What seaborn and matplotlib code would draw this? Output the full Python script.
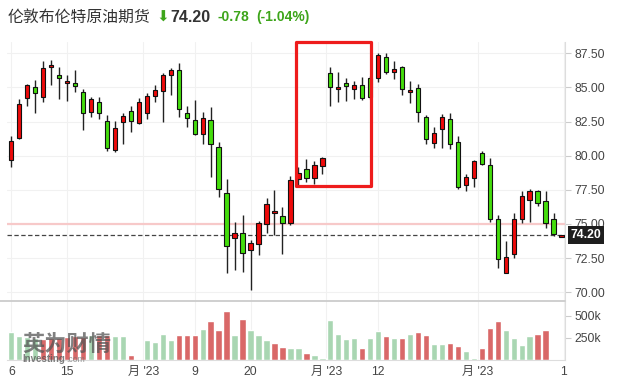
import numpy as np
import pandas as pd
import matplotlib
matplotlib.use("Agg")
import matplotlib.pyplot as plt
import matplotlib.transforms as mtransforms
from matplotlib.patches import Rectangle
from matplotlib.lines import Line2D
from matplotlib.ticker import FixedLocator, FuncFormatter
import seaborn as sns

sns.set_theme(style="white")
plt.rcParams["font.family"] = ["Liberation Sans", "Noto Sans CJK SC", "DejaVu Sans"]

# ── data ──────────────────────────────────────────────────────────────────────
opens = [79.67, 81.33, 84.21, 85.01, 84.28, 86.48, 85.89, 85.30, 85.33, 84.65,
         83.23, 83.91, 82.52, 80.40, 82.45, 83.28, 82.38, 83.11, 84.40, 84.72,
         85.89, 86.26, 83.11, 82.60, 81.57, 82.65, 80.62, 77.30, 73.94, 74.33,
         73.09, 73.55, 74.99, 75.77, 75.57, 75.06, 78.33, 79.01, 78.38, 79.28,
         86.04, 84.87, 85.30, 84.91, 85.16, 85.67, 85.67, 87.21, 86.16, 86.48,
         84.65, 84.94, 82.82, 80.91, 81.94, 82.67, 80.99, 77.82, 78.35, 80.18,
         79.30, 75.35, 71.40, 72.79, 75.35, 76.79, 77.40, 76.67, 75.35, 74.08]
closes = [81.06, 83.77, 85.16, 84.57, 86.40, 86.65, 85.67, 85.48, 85.13, 83.11,
          84.13, 83.11, 80.55, 82.01, 82.89, 82.52, 83.91, 84.35, 84.79, 85.91,
          86.26, 83.40, 82.74, 81.62, 82.79, 80.84, 77.55, 73.38, 74.33, 72.87,
          73.62, 75.06, 76.45, 75.94, 75.06, 78.21, 78.72, 78.38, 79.30, 79.82,
          85.01, 85.01, 85.09, 85.16, 84.26, 84.32, 87.38, 86.16, 86.35, 84.87,
          84.82, 83.18, 81.21, 81.70, 82.82, 80.84, 77.74, 78.43, 79.62, 79.38,
          75.40, 72.40, 72.57, 75.35, 77.04, 77.45, 76.52, 75.06, 74.26, 74.20]
highs = [81.48, 84.18, 85.28, 85.52, 86.91, 87.01, 86.48, 85.89, 86.26, 84.91,
         84.33, 84.28, 83.01, 82.52, 83.11, 83.62, 84.21, 84.60, 85.16, 86.04,
         86.43, 86.77, 83.62, 84.06, 83.18, 83.55, 80.99, 78.28, 75.18, 75.67,
         73.82, 75.23, 76.87, 77.48, 76.23, 78.52, 79.21, 79.77, 79.60, 79.94,
         86.48, 86.11, 85.72, 85.50, 85.74, 85.85, 87.50, 87.50, 86.94, 86.57,
         85.45, 85.23, 82.99, 82.09, 83.06, 83.11, 81.48, 78.65, 79.70, 80.33,
         79.82, 75.67, 73.72, 75.79, 77.45, 77.57, 77.50, 77.45, 75.84, 74.23]
lows = [79.16, 81.26, 83.62, 83.11, 83.94, 85.16, 84.18, 83.99, 84.70, 81.87,
        82.82, 82.67, 80.38, 80.30, 80.84, 81.77, 82.30, 82.67, 83.91, 82.45,
        84.43, 82.87, 82.13, 81.50, 80.84, 78.43, 77.01, 71.40, 71.62, 71.50,
        70.18, 72.74, 74.33, 74.18, 72.79, 74.91, 77.79, 78.06, 77.96, 78.65,
        83.62, 83.91, 84.04, 84.13, 84.09, 84.15, 85.43, 86.00, 85.60, 84.43,
        83.89, 82.45, 80.84, 80.55, 80.55, 80.48, 77.55, 77.45, 77.74, 79.30,
        75.11, 71.77, 71.40, 72.48, 75.06, 75.11, 76.30, 74.70, 74.13, 74.07]

volumes = [307, 269, 260, 240, 230, 250, 240, 260, 270, 255,
           280, 284, 284, 269, 269, 53, 11, 227, 201, 292,
           227, 280, 280, 273, 349, 443, 341, 546, 280, 455,
           330, 284, 227, 190, 144, 133, 133, 76, 53, 15,
           451, 292, 235, 246, 133, 246, 326, 269, 246, 246,
           292, 318, 280, 178, 178, 190, 155, 99, 15, 133,
           360, 443, 341, 246, 167, 269, 292, 330]
vol_dir = ["g", "g", "g", "g", "r", "r", "r", "r", "r", "r",
           "g", "r", "r", "g", "g", "r", "g", "g", "g", "g",
           "g", "r", "r", "r", "g", "r", "r", "r", "g", "r",
           "g", "g", "g", "r", "r", "g", "g", "r", "g", "g",
           "g", "g", "g", "g", "r", "g", "g", "r", "g", "r",
           "g", "r", "r", "g", "g", "r", "r", "g", "g", "r",
           "r", "r", "g", "g", "g", "g", "r", "r"]

x_tick_pos = [0, 7, 16.55, 23, 30, 39.5, 46, 58.5, 69.3]
x_tick_labels = ["6", "15", "月 '23", "9", "20", "月 '23", "12", "月 '23", "1"]
price_ticks = [70.0, 72.5, 75.0, 77.5, 80.0, 82.5, 85.0, 87.5]
last_price = 74.20

UP = "#ee0a0a"
DOWN = "#44dd0c"
VOL_UP = "#d96868"
VOL_DOWN = "#a9d6b2"
TXT_GREEN = "#3da51a"

W, H = 628, 388
fig = plt.figure(figsize=(W / 100, H / 100), dpi=100, facecolor="white")
ax = fig.add_axes([7 / W, (H - 301) / H, (565 - 7) / W, (301 - 42) / H])
axv = fig.add_axes([7 / W, (H - 359.5) / H, (565 - 7) / W, (359.5 - 301) / H])

# ── candles ──────────────────────────────────────────────────────────────────
o = np.array(opens)
c = np.array(closes)
idx = np.arange(len(o))
body_lo = np.minimum(o, c)
body_h = np.maximum(np.abs(c - o), 0.12)
colors = [UP if cc >= oo else DOWN for oo, cc in zip(o, c)]

ax.vlines(idx, lows, highs, color="#222222", lw=1.0, zorder=2)
ax.bar(idx, body_h, bottom=body_lo, width=0.55, color=colors,
       edgecolor="#111111", linewidth=0.8, zorder=3)

ax.set_xlim(-0.54, 69.43)
ax.set_ylim(69.36, 88.33)
ax.yaxis.tick_right()
ax.set_yticks(price_ticks)
ax.yaxis.set_major_formatter(FuncFormatter(lambda v, p: f"{v:.2f}"))
ax.tick_params(axis="y", right=True, length=4, width=0.8, color="#cccccc",
               labelsize=8.7, labelcolor="#444444", pad=2.5)
ax.set_xticks(x_tick_pos)
ax.tick_params(axis="x", bottom=False, labelbottom=False)
ax.grid(True, color="#f1f1f1", lw=0.8, zorder=0)
for s in ["top", "left", "bottom"]:
    ax.spines[s].set_visible(False)
ax.spines["right"].set_color("#dddddd")
ax.spines["right"].set_linewidth(0.8)

ax.axhline(75.0, color="#f7c9c9", lw=1.6, zorder=1)
ax.axhline(last_price, color="#444444", lw=0.9, ls=(0, (3.5, 2)), zorder=1.5)

trans = mtransforms.blended_transform_factory(ax.transAxes, ax.transData)
ax.text(1.01, last_price, f"{last_price:.2f}", transform=trans, ha="left",
        va="center", fontsize=8.8, fontweight="bold", color="white",
        bbox=dict(boxstyle="square,pad=0.22", fc="#1e1e1e", ec="none"),
        clip_on=False, zorder=10)

ax.add_patch(Rectangle((35.74, 77.81), 45.14 - 35.74, 88.33 - 77.81,
                       fill=False, ec="#ee1c1c", lw=2.3, joinstyle="round",
                       clip_on=False, zorder=6))

# ── volume ───────────────────────────────────────────────────────────────────
vol_df = pd.DataFrame({"i": np.arange(len(volumes)),
                       "vol": np.array(volumes) * 1000,
                       "dir": vol_dir})
sns.barplot(data=vol_df, x="i", y="vol", hue="dir", native_scale=True,
            palette={"r": VOL_UP, "g": VOL_DOWN}, saturation=1, width=0.8,
            legend=False, ax=axv, zorder=2)
axv.set_xlim(-0.54, 69.43)
axv.set_ylim(0, 665000)
axv.set_xlabel("")
axv.set_ylabel("")
axv.yaxis.tick_right()
axv.yaxis.set_major_locator(FixedLocator([250000, 500000]))
axv.yaxis.set_major_formatter(FuncFormatter(lambda v, p: f"{int(v / 1000)}k"))
axv.tick_params(axis="y", right=True, length=4, width=0.8, color="#cccccc",
                labelsize=8.7, labelcolor="#444444", pad=2.5)
axv.set_xticks(x_tick_pos)
axv.set_xticklabels(x_tick_labels)
axv.tick_params(axis="x", bottom=False, length=0, labelsize=8.7,
                labelcolor="#444444", pad=4.5)
axv.grid(True, axis="x", color="#f1f1f1", lw=0.8, zorder=0)
for s in ["top", "left"]:
    axv.spines[s].set_visible(False)
for s in ["right", "bottom"]:
    axv.spines[s].set_color("#dddddd")
    axv.spines[s].set_linewidth(0.8)

# panel separator
fig.add_artist(Line2D([0, 565 / W], [(H - 301) / H] * 2, color="#cccccc", lw=1.3))

# watermark
axv.text(0.028, 0.26, "英为财情", transform=axv.transAxes, fontsize=16,
         fontweight="bold", color="#555555", alpha=0.75,
         family=["Noto Sans CJK SC"], va="center", zorder=5)
axv.text(0.028, 0.0, "Investing", transform=axv.transAxes, fontsize=7,
         fontweight="bold", color="#555555", alpha=0.75, va="center", zorder=5)
axv.text(0.106, 0.0, ".com", transform=axv.transAxes, fontsize=6.2,
         color="#777777", alpha=0.75, va="center", zorder=5)

# ── header ───────────────────────────────────────────────────────────────────
ty = 1 - 17 / H
fig.text(8 / W, ty, "伦敦布伦特原油期货", fontsize=11.4, color="#333333",
         family=["Noto Sans CJK SC"], va="center")
fig.text(156 / W, ty, "⬇", fontsize=11, color=TXT_GREEN,
         family=["DejaVu Sans"], va="center")
fig.text(170 / W, ty, f"{last_price:.2f}", fontsize=11.5, fontweight="bold",
         color="#333333", va="center")
fig.text(218 / W, ty, "-0.78", fontsize=10, fontweight="bold",
         color=TXT_GREEN, va="center")
fig.text(256 / W, ty, "(-1.04%)", fontsize=10, fontweight="bold",
         color=TXT_GREEN, va="center")

fig.savefig("out.png", dpi=100, facecolor="white")
